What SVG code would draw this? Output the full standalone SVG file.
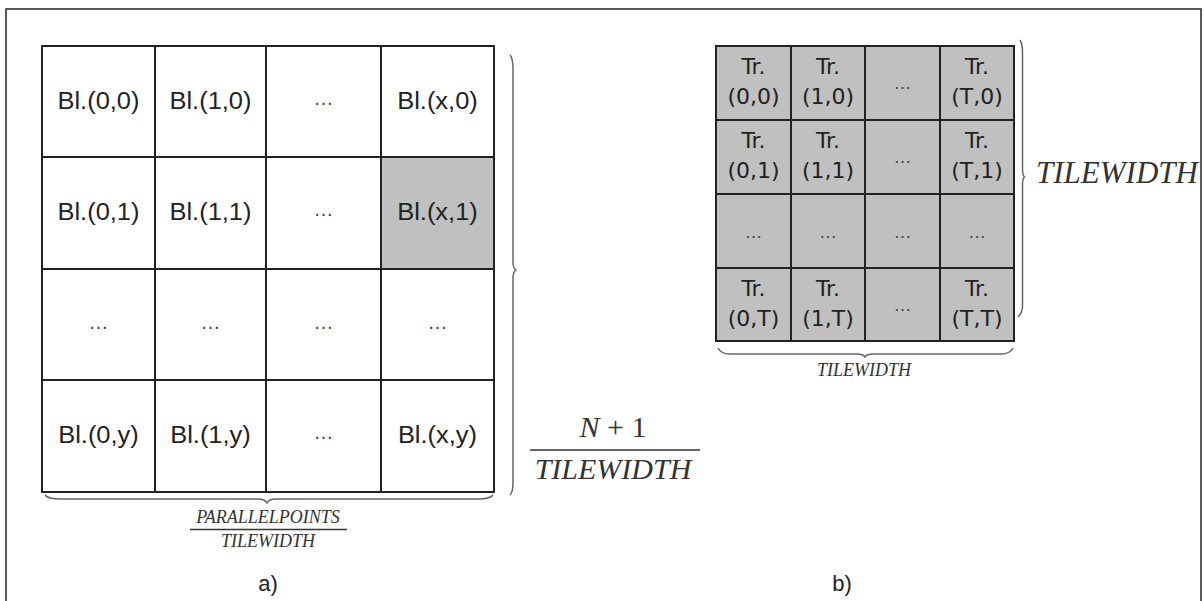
<svg xmlns="http://www.w3.org/2000/svg" width="1204" height="601" viewBox="0 0 1204 601">
<style>
.frame{fill:none;stroke:#333;stroke-width:1.6}
.cell{fill:#fff;stroke:#222;stroke-width:2}
.shade{fill:#c0c0c0;stroke:#222;stroke-width:2}
.bl{font-family:"Liberation Sans",Arial,sans-serif;font-size:23px;fill:#222;text-anchor:middle}
.tr{font-family:"DejaVu Sans",sans-serif;font-size:22px;fill:#222;text-anchor:middle}
.dots{font-family:"Liberation Sans",Arial,sans-serif;font-size:20px;fill:#444;text-anchor:middle}
.dots2{font-family:"Liberation Sans",Arial,sans-serif;font-size:18px;fill:#444;text-anchor:middle}
.math{font-family:"Liberation Serif","Times New Roman",serif;font-style:italic;fill:#333;text-anchor:middle}
.up{font-style:normal}
.brace{fill:none;stroke:#666;stroke-width:1.5}
.bar{stroke:#333;stroke-width:1.5}
.cap{font-family:"Liberation Sans",Arial,sans-serif;font-size:22px;fill:#222;text-anchor:middle}
</style>
<rect class="frame" x="6" y="9" width="1195" height="600"/>

<g id="gridA">
<g id="bl-0-0"><rect class="cell" x="42" y="46" width="113" height="111"/><text class="bl" x="98.5" y="109" textLength="82" lengthAdjust="spacingAndGlyphs">Bl.(0,0)</text></g>
<g id="bl-1-0"><rect class="cell" x="155" y="46" width="111" height="111"/><text class="bl" x="210.5" y="109" textLength="82" lengthAdjust="spacingAndGlyphs">Bl.(1,0)</text></g>
<g id="bl-d-0"><rect class="cell" x="266" y="46" width="115" height="111"/><text class="dots" x="323.5" y="105">…</text></g>
<g id="bl-x-0"><rect class="cell" x="381" y="46" width="113" height="111"/><text class="bl" x="437.5" y="109" textLength="80.6" lengthAdjust="spacingAndGlyphs">Bl.(x,0)</text></g>

<g id="bl-0-1"><rect class="cell" x="42" y="157" width="113" height="112"/><text class="bl" x="98.5" y="220" textLength="82" lengthAdjust="spacingAndGlyphs">Bl.(0,1)</text></g>
<g id="bl-1-1"><rect class="cell" x="155" y="157" width="111" height="112"/><text class="bl" x="210.5" y="220" textLength="82" lengthAdjust="spacingAndGlyphs">Bl.(1,1)</text></g>
<g id="bl-d-1"><rect class="cell" x="266" y="157" width="115" height="112"/><text class="dots" x="323.5" y="216">…</text></g>
<g id="bl-x-1"><rect class="shade" x="381" y="157" width="113" height="112"/><text class="bl" x="437.5" y="220" textLength="80.6" lengthAdjust="spacingAndGlyphs">Bl.(x,1)</text></g>

<g id="bl-0-d"><rect class="cell" x="42" y="269" width="113" height="111"/><text class="dots" x="98.5" y="329">…</text></g>
<g id="bl-1-d"><rect class="cell" x="155" y="269" width="111" height="111"/><text class="dots" x="210.5" y="329">…</text></g>
<g id="bl-d-d"><rect class="cell" x="266" y="269" width="115" height="111"/><text class="dots" x="323.5" y="329">…</text></g>
<g id="bl-x-d"><rect class="cell" x="381" y="269" width="113" height="111"/><text class="dots" x="437.5" y="329">…</text></g>

<g id="bl-0-y"><rect class="cell" x="42" y="380" width="113" height="112"/><text class="bl" x="98.5" y="443" textLength="80.6" lengthAdjust="spacingAndGlyphs">Bl.(0,y)</text></g>
<g id="bl-1-y"><rect class="cell" x="155" y="380" width="111" height="112"/><text class="bl" x="210.5" y="443" textLength="80.6" lengthAdjust="spacingAndGlyphs">Bl.(1,y)</text></g>
<g id="bl-d-y"><rect class="cell" x="266" y="380" width="115" height="112"/><text class="dots" x="323.5" y="439">…</text></g>
<g id="bl-x-y"><rect class="cell" x="381" y="380" width="113" height="112"/><text class="bl" x="437.5" y="443" textLength="79.2" lengthAdjust="spacingAndGlyphs">Bl.(x,y)</text></g>
</g>

<g id="gridB">
<g id="tr-0-0"><rect class="shade" x="716" y="46" width="75" height="74"/><text class="tr" x="753.5" y="74">Tr.</text><text class="tr" x="753.5" y="104">(0,0)</text></g>
<g id="tr-1-0"><rect class="shade" x="791" y="46" width="74" height="74"/><text class="tr" x="828" y="74">Tr.</text><text class="tr" x="828" y="104">(1,0)</text></g>
<g id="tr-d-0"><rect class="shade" x="865" y="46" width="75" height="74"/><text class="dots2" x="902.5" y="89">…</text></g>
<g id="tr-T-0"><rect class="shade" x="940" y="46" width="74" height="74"/><text class="tr" x="977" y="74">Tr.</text><text class="tr" x="977" y="104">(T,0)</text></g>

<g id="tr-0-1"><rect class="shade" x="716" y="120" width="75" height="74"/><text class="tr" x="753.5" y="148">Tr.</text><text class="tr" x="753.5" y="178">(0,1)</text></g>
<g id="tr-1-1"><rect class="shade" x="791" y="120" width="74" height="74"/><text class="tr" x="828" y="148">Tr.</text><text class="tr" x="828" y="178">(1,1)</text></g>
<g id="tr-d-1"><rect class="shade" x="865" y="120" width="75" height="74"/><text class="dots2" x="902.5" y="163">…</text></g>
<g id="tr-T-1"><rect class="shade" x="940" y="120" width="74" height="74"/><text class="tr" x="977" y="148">Tr.</text><text class="tr" x="977" y="178">(T,1)</text></g>

<g id="tr-0-d"><rect class="shade" x="716" y="194" width="75" height="74"/><text class="dots2" x="753.5" y="238">…</text></g>
<g id="tr-1-d"><rect class="shade" x="791" y="194" width="74" height="74"/><text class="dots2" x="828" y="238">…</text></g>
<g id="tr-d-d"><rect class="shade" x="865" y="194" width="75" height="74"/><text class="dots2" x="902.5" y="238">…</text></g>
<g id="tr-T-d"><rect class="shade" x="940" y="194" width="74" height="74"/><text class="dots2" x="977" y="238">…</text></g>

<g id="tr-0-T"><rect class="shade" x="716" y="268" width="75" height="73"/><text class="tr" x="753.5" y="296">Tr.</text><text class="tr" x="753.5" y="326">(0,T)</text></g>
<g id="tr-1-T"><rect class="shade" x="791" y="268" width="74" height="73"/><text class="tr" x="828" y="296">Tr.</text><text class="tr" x="828" y="326">(1,T)</text></g>
<g id="tr-d-T"><rect class="shade" x="865" y="268" width="75" height="73"/><text class="dots2" x="902.5" y="311">…</text></g>
<g id="tr-T-T"><rect class="shade" x="940" y="268" width="74" height="73"/><text class="tr" x="977" y="296">Tr.</text><text class="tr" x="977" y="326">(T,T)</text></g>
</g>

<g id="braces">
<path class="brace" d="M510,55 Q513,58 513,70 L513,262 Q513,268 516,270 Q513,272 513,278 L513,482 Q513,492 510,495"/>
<path class="brace" d="M45,495 Q48,499 60,499 L258,499 Q265,499 267,503 Q269,499 276,499 L478,499 Q490,499 493,495"/>
<path class="brace" d="M1020,40 Q1022.5,44 1022.5,52 L1022.5,170 Q1022.5,175 1024.5,177 Q1022.5,179 1022.5,184 L1022.5,306 Q1022.5,313 1018,317"/>
<path class="brace" d="M718,348 Q721,354 730,354 L857,354 Q863,354 865,357 Q867,354 873,354 L1001,354 Q1010,354 1013,348"/>
</g>

<g id="labels">
<text class="math" x="268" y="523" font-size="18">PARALLELPOINTS</text>
<line class="bar" x1="190" y1="529.5" x2="347" y2="529.5" stroke-width="1.2"/>
<text class="math" x="268" y="547" font-size="18">TILEWIDTH</text>

<text class="math" x="613" y="437" font-size="30">N<tspan class="up"> + 1</tspan></text>
<line class="bar" x1="530" y1="450" x2="700" y2="450"/>
<text class="math" x="613" y="479" font-size="30">TILEWIDTH</text>

<text class="math" x="1117" y="183" font-size="31">TILEWIDTH</text>
<text class="math" x="864" y="376" font-size="18">TILEWIDTH</text>

<text class="cap" x="268" y="591">a)</text>
<text class="cap" x="842" y="591">b)</text>
</g>
</svg>
